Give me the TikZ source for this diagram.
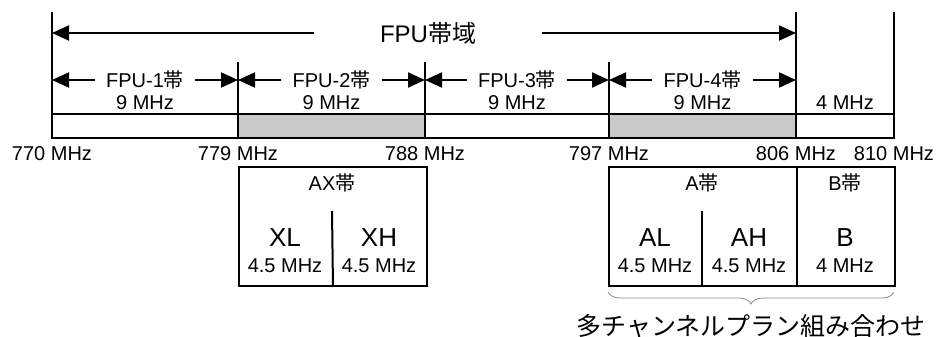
\documentclass[tikz,border=0pt]{standalone}
\usepackage{fontspec}
\setmainfont{Liberation Sans}
\newfontfamily\jp{Noto Sans CJK JP}
\usetikzlibrary{arrows.meta,decorations.pathreplacing}
\definecolor{bandgray}{HTML}{C8C9CB}

\begin{document}
\begin{tikzpicture}[
  x=1pt, y=-1pt,
  line/.style={line width=2pt},
  arrow/.style={-{Triangle[length=17pt,width=15pt]}, line width=2pt},
  lbl/.style={font=\fontsize{20}{22}\selectfont, inner sep=0pt},
  big/.style={font=\fontsize{26}{28}\selectfont, inner sep=0pt},
  box/.style={draw, line width=2pt, anchor=north west, minimum height=119pt, inner sep=0pt},
  brace/.style={decorate, decoration={brace, amplitude=12pt}, draw=black!45, line width=0.8pt}
]
\useasboundingbox (0,0) rectangle (938,337);

% bar
\draw[line, fill=bandgray] (238,114) rectangle (425,138);
\draw[line, fill=bandgray] (609,114) rectangle (796,138);
\draw[line] (52,114) rectangle (894,138);
\draw[line] (52,12) -- (52,138);
\draw[line] (796,12) -- (796,138);
\draw[line] (894,12) -- (894,138);
\foreach \x in {238,425,609}
  \draw[line] (\x,62) -- (\x,138);

% FPU band
\coordinate (fpul) at (52,33);
\coordinate (fpur) at (796,33);
\node[font=\fontsize{24}{26}\selectfont, minimum width=227pt, inner sep=0pt] (fpu) at (428,33) {FPU{\jp 帯域}};
\draw[arrow] (fpu.west) -- (fpul);
\draw[arrow] (fpu.east) -- (fpur);

\foreach \n/\l/\r in {1/52/238, 2/238/425, 3/425/609, 4/609/796} {
  \coordinate (sl\n) at (\l,80);
  \coordinate (sr\n) at (\r,80);
  \node[lbl, inner xsep=11pt] (fpu\n) at ({(\l+\r)/2},80) {FPU-\n{\jp 帯}};
  \node[lbl] (bw\n) at ({(\l+\r)/2},103) {9 MHz};
  \draw[arrow] (fpu\n) -- (sl\n);
  \draw[arrow] (fpu\n) -- (sr\n);
}
\node[lbl] (bw5) at (845,103) {4 MHz};

\foreach \f/\x in {770/52, 779/238, 788/425, 797/609, 806/796, 810/894}
  \node[lbl] (f\f) at (\x,154) {\f\ MHz};

% channel boxes
\node[box, minimum width=188pt] (ax) at (238,166) {};
\node[box, minimum width=286pt] (ab) at (608,166) {};
\draw[line] (332,211) -- (ax.south);
\draw[line] (702,211) -- (702,285);
\draw[line] (797,166) -- (797,285);

\node[lbl] (axt) at (332,183) {AX{\jp 帯}};
\node[big] (xl) at (285,238) {XL};
\node[lbl] (xlw) at (285,266) {4.5 MHz};
\node[big] (xh) at (379,238) {XH};
\node[lbl] (xhw) at (379,266) {4.5 MHz};

\node[lbl] (at) at (702,183) {A{\jp 帯}};
\node[lbl] (bt) at (845,183) {B{\jp 帯}};
\node[big] (al) at (655,238) {AL};
\node[lbl] (alw) at (655,266) {4.5 MHz};
\node[big] (ah) at (749,238) {AH};
\node[lbl] (ahw) at (749,266) {4.5 MHz};
\node[big] (b) at (845,238) {B};
\node[lbl] (bw) at (845,266) {4 MHz};

\draw[brace] (894,292) -- (608,292);
\node[font=\jp\fontsize{25}{27}\selectfont, inner sep=0pt] (plan) at (751,326) {多チャンネルプラン組み合わせ};
\end{tikzpicture}
\end{document}
